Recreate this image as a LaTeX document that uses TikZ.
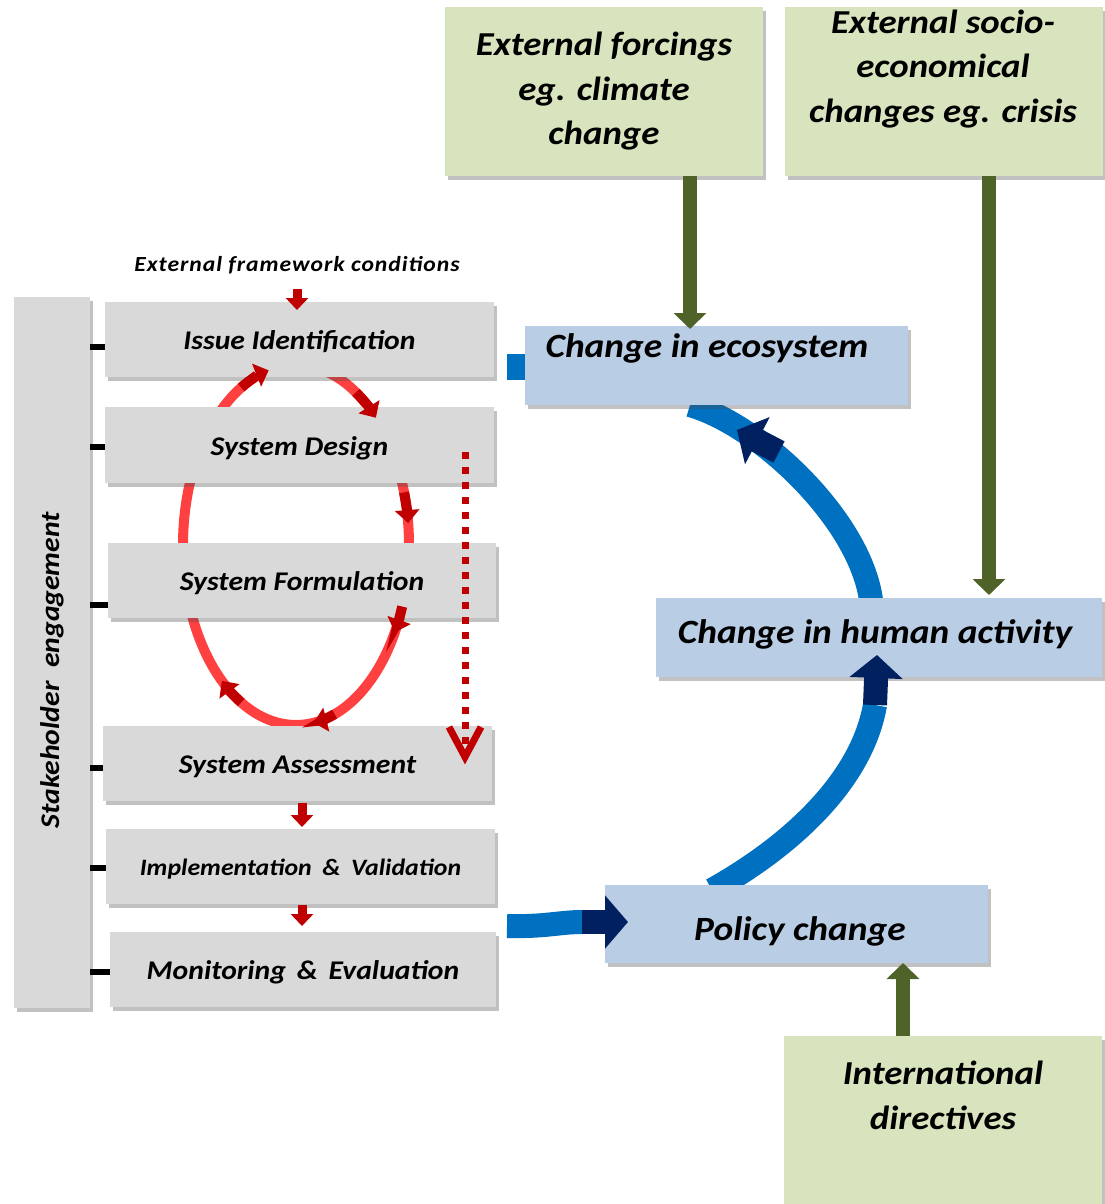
\documentclass[tikz,border=0pt]{standalone}
\usepackage{fontspec}
\setmainfont{Carlito}[FakeStretch=1.1]
\usetikzlibrary{arrows.meta,shadows,calc}
\definecolor{gbox}{HTML}{D9D9D9}
\definecolor{grbox}{HTML}{D7E4BD}
\definecolor{blbox}{HTML}{B9CDE5}
\definecolor{gdark}{HTML}{4F6228}
\definecolor{bline}{HTML}{0070C0}
\definecolor{navy}{HTML}{002060}
\definecolor{rloop}{HTML}{FF4040}
\definecolor{dkred}{HTML}{C00000}
\begin{document}
\begin{tikzpicture}[x=1pt,y=-1pt,
  shad/.style={drop shadow={shadow xshift=3pt,shadow yshift=-4pt,opacity=0.35,fill=black!70}},
  stepbox/.style={shad,fill=gbox,minimum width=389pt,minimum height=75pt,inner sep=0pt,
     text height=22pt,text depth=2pt,
     font=\fontsize{27}{30}\selectfont\bfseries\itshape},
  greenbox/.style={shad,fill=grbox,minimum width=318pt,minimum height=169pt,inner sep=0pt},
  bluebox/.style={shad,fill=blbox,minimum height=79pt,inner sep=0pt},
  bigtxt/.style={font=\fontsize{33.5}{44.5}\selectfont\bfseries\itshape,align=center,inner sep=0pt},
  bluetxt/.style={font=\fontsize{34}{36}\selectfont\bfseries\itshape,inner sep=0pt,text height=26pt,text depth=2pt},
  tickline/.style={draw=black,line width=6pt},
  rsmall/.style={draw=dkred,line width=9pt,-{Triangle[length=12pt,width=22pt]}},
  rhead/.style={draw=dkred,line width=10pt,-{Triangle[length=13pt,width=24pt]}},
  garrow/.style={draw=gdark,line width=14pt,-{Triangle[length=16pt,width=32pt]}},
  bcurve/.style={draw=bline,line width=24pt},
  nhead/.style={draw=navy,line width=24pt,-{Triangle[length=23pt,width=52pt]}}
]
\useasboundingbox (0,0) rectangle (1105,1204);

% red loop (behind boxes)
\draw[rloop,line width=10pt] (296,545) ellipse [x radius=113, y radius=180];

% blue curves (behind boxes)
\coordinate (b1s) at (507,926);
\coordinate (b1e) at (582,922);
\coordinate (b1t) at (628,922);
\coordinate (b2s) at (712,890);
\coordinate (b2e) at (875,705);
\coordinate (b2t) at (877,655);
\coordinate (b3s) at (871,600);
\coordinate (b3e) at (690,405);
\coordinate (b3h) at (779,452);
\coordinate (b3t) at (737,430);
\coordinate (stub) at (507,367);
\draw[bcurve] (b1s) .. controls (545,927) and (560,922) .. (b1e);
\draw[bcurve] (b2s) .. controls (775,855) and (860,790) .. (b2e);
\draw[bcurve] (b3s) .. controls (860,520) and (760,425) .. (b3e);

% stakeholder bar
\node[shad,fill=gbox,minimum width=76pt,minimum height=711pt,inner sep=0pt] (bar) at (52,652.5) {};
\node[rotate=90,font=\fontsize{27}{30}\selectfont\bfseries\itshape,inner sep=0pt] (sht) at (52,670) {Stakeholder\hspace{0.5em}engagement};

% step boxes
\node[stepbox] (iss) at (299.5,339.5) {Issue Identification};
\node[stepbox,minimum height=76pt] (sd) at (299.5,445) {System Design};
\node[stepbox,minimum width=388pt] (sf) at (302,580.5) {System Formulation};
\node[stepbox] (sa) at (297.5,763.5) {System Assessment};
\node[stepbox,font=\fontsize{23.5}{26}\selectfont\bfseries\itshape,text height=20pt,text depth=2pt] (iv) at (300.5,866.5) {Implementation\hspace{0.45em}\&\hspace{0.45em}Validation};
\node[stepbox,minimum width=386pt] (me) at (303,969.5) {Monitoring\hspace{0.4em}\&\hspace{0.4em}Evaluation};

% ticks
\coordinate (k1) at (0,347);
\coordinate (k2) at (0,447);
\coordinate (k3) at (0,605);
\coordinate (k4) at (0,768);
\coordinate (k5) at (0,868);
\coordinate (k6) at (0,972);
\draw[tickline] (bar.east |- k1) -- (iss.west |- k1);
\draw[tickline] (bar.east |- k2) -- (sd.west |- k2);
\draw[tickline] (bar.east |- k3) -- (sf.west |- k3);
\draw[tickline] (bar.east |- k4) -- (sa.west |- k4);
\draw[tickline] (bar.east |- k5) -- (iv.west |- k5);
\draw[tickline] (bar.east |- k6) -- (me.west |- k6);

% external framework conditions
\node[font=\fontsize{21.5}{24}\selectfont\bfseries\itshape,inner sep=0pt] (efc) at (297,265) {\addfontfeatures{LetterSpace=4.5}External framework conditions};
\coordinate (r0) at (297,289);
\coordinate (r0t) at (297,310);
\draw[rsmall] (r0) -- (r0t);
\coordinate (r1) at (302,803);
\coordinate (r1t) at (302,827);
\draw[rsmall] (r1) -- (r1t);
\coordinate (r2) at (302,905);
\coordinate (r2t) at (302,926);
\draw[rsmall] (r2) -- (r2t);

% red loop arrowheads (over boxes)
\draw[rhead] (296,545) ++({113*cos(-119)},{180*sin(-119)}) arc[start angle=-119, end angle=-104, x radius=113, y radius=180];
\draw[rhead] (296,545) ++({113*cos(-58)},{180*sin(-58)}) arc[start angle=-58, end angle=-45, x radius=113, y radius=180];
\draw[rhead] (296,545) ++({113*cos(-17)},{180*sin(-17)}) arc[start angle=-17, end angle=-7, x radius=113, y radius=180];
\draw[rhead] (296,545) ++({113*cos(20)},{180*sin(20)}) arc[start angle=20, end angle=29, x radius=113, y radius=180];
\draw[rhead] (296,545) ++({113*cos(70)},{180*sin(70)}) arc[start angle=70, end angle=81, x radius=113, y radius=180];
\draw[rhead] (296,545) ++({113*cos(119)},{180*sin(119)}) arc[start angle=119, end angle=131, x radius=113, y radius=180];

% dotted arrow
\coordinate (d1) at (465,452);
\coordinate (d2) at (465,750);
\coordinate (d3) at (465,757);
\draw[dkred,line width=7pt,dash pattern=on 7pt off 8pt] (d1) -- (d2);
\draw[dkred,line width=7pt] (d3) ++(-16,-30) -- (d3) -- ++(16,-30);

% green boxes
\node[greenbox,bigtxt] (ef) at (604,91.5) {External forcings\\eg. climate\\change};
\node[greenbox] (es) at (943.5,91.5) {};
\node[bigtxt] (est) at (943,69) {External socio-\\economical\\changes eg. crisis};
\node[greenbox,minimum height=172pt] (id) at (943,1122) {};
\node[bigtxt] (idt) at (943,1095.5) {International\\directives};

% blue boxes
\node[bluebox,minimum width=383pt] (eco) at (716.5,365.5) {};
\node[bluetxt] (ecot) at (707,345) {Change in ecosystem};
\node[bluebox,minimum width=446pt] (hum) at (879,637.5) {};
\node[bluetxt] (humt) at (875,631) {Change in human activity};
\node[bluebox,minimum width=383pt,minimum height=78pt] (pol) at (796.5,924) {};
\node[bluetxt] (polt) at (800,928) {Policy change};

% blue stub into ecosystem
\draw[draw=bline,line width=26pt] (stub) -- (eco.west |- stub);

% navy arrow heads
\draw[nhead] (b1e) -- (b1t);
\draw[nhead] (b2e) -- (b2t);
\draw[nhead] (b3h) -- (b3t);

% green arrows
\coordinate (g1) at (690,0);
\coordinate (g2) at (989,0);
\coordinate (g3) at (903,0);
\coordinate (g1t) at (690,329);
\coordinate (g2t) at (989,595);
\coordinate (g3t) at (903,963);
\draw[garrow] (ef.south -| g1) -- (g1t);
\draw[garrow] (es.south -| g2) -- (g2t);
\draw[garrow] (id.north -| g3) -- (g3t);
\end{tikzpicture}
\end{document}
